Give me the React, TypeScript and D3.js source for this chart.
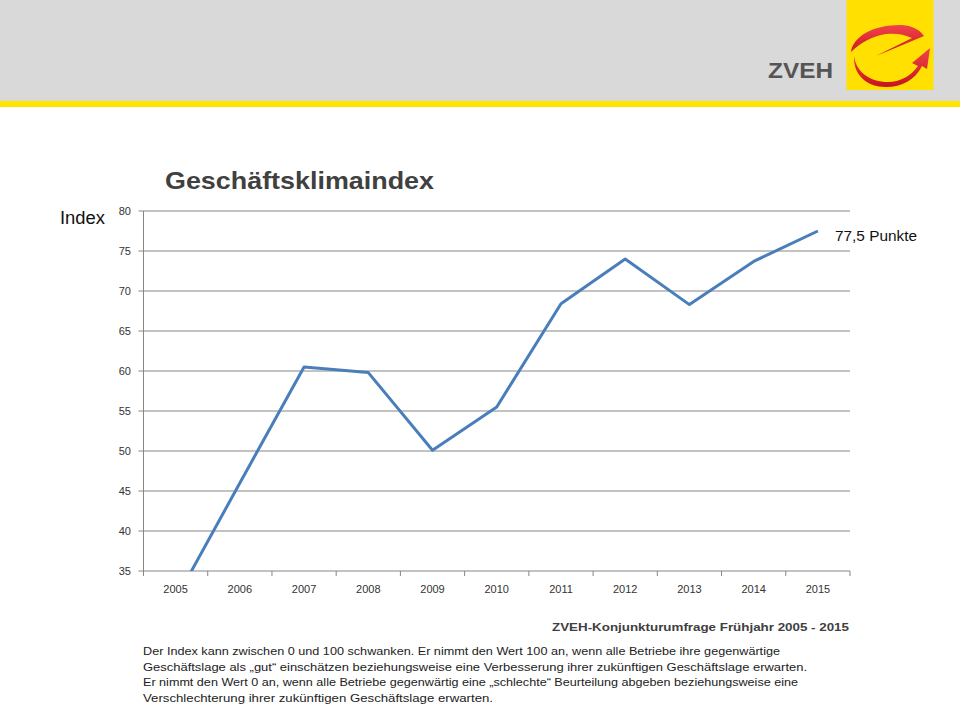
import React from "react";
import * as d3 from "d3";

const years = ["2005","2006","2007","2008","2009","2010","2011","2012","2013","2014","2015"];
const indexValues = [31.4, 46.0, 60.5, 59.8, 50.1, 55.5, 68.4, 74.0, 68.3, 73.7, 77.5];
const yTicks = [35, 40, 45, 50, 55, 60, 65, 70, 75, 80];
const footnoteLines = [
  "Der Index kann zwischen 0 und 100 schwanken. Er nimmt den Wert 100 an, wenn alle Betriebe ihre gegenwärtige",
  "Geschäftslage als „gut“ einschätzen beziehungsweise eine Verbesserung ihrer zukünftigen Geschäftslage erwarten.",
  "Er nimmt den Wert 0 an, wenn alle Betriebe gegenwärtig eine „schlechte“ Beurteilung abgeben beziehungsweise eine",
  "Verschlechterung ihrer zukünftigen Geschäftslage erwarten.",
];
const footnoteWidths = [637, 664, 655, 350];

export default function App() {
  const W = 960, H = 720;
  const left = 143.5, right = 850, top = 211, bottom = 571;
  const x = d3.scaleBand<string>().domain(years).range([left, right]);
  const y = d3.scaleLinear().domain([35, 80]).range([bottom, top]);
  const line = d3.line<number>()
    .x((_, i) => (x(years[i]) as number) + x.bandwidth() / 2)
    .y((d) => y(d));
  const font = "Arial, 'Liberation Sans', sans-serif";
  const tickBounds = years.map((yr) => x(yr) as number).concat([right]);
  const last = indexValues[indexValues.length - 1];
  return (
    <svg width={W} height={H} style={{ position: "absolute", left: 0, top: 0 }} fontFamily={font}>
      <defs>
        <clipPath id="plotClip">
          <rect x={left} y={top - 5} width={right - left + 5} height={bottom - top + 5} />
        </clipPath>
        <linearGradient id="redg" x1="0" y1="0" x2="0" y2="1">
          <stop offset="0" stopColor="#f0444a" />
          <stop offset="1" stopColor="#c8141c" />
        </linearGradient>
      </defs>
      <rect x={0} y={0} width={W} height={H} fill="#ffffff" />
      {/* header */}
      <rect x={0} y={0} width={W} height={101} fill="#d9d9d9" />
      <rect x={0} y={101} width={W} height={6} fill="#ffe500" />
      <rect x={846.5} y={0} width={87} height={90} fill="#ffe000" />
      {/* logo swooshes */}
      <path d="M851,52 C853,36 874,25 900,25 C911,25 919,29 924,36 L876,56 L912,38 C904,34 895,33 886,34 C872,36 860,43 851,52 Z" fill="url(#redg)" />
      <path d="M854,56 C856,72 870,82 888,82 C900,82 911,76 918,66 L912,63 L930,48 L927,69 L922,66 C915,80 902,87 886,87 C866,87 853,74 854,56 Z" fill="url(#redg)" />
      <text x={768} y={78} fontSize={22} fontWeight="bold" fill="#555555" textLength={65} lengthAdjust="spacingAndGlyphs">ZVEH</text>
      {/* title */}
      <text x={165} y={189} fontSize={24} fontWeight="bold" fill="#404040" textLength={269} lengthAdjust="spacingAndGlyphs">Geschäftsklimaindex</text>
      <text x={60} y={224} fontSize={17.5} fill="#111" textLength={45} lengthAdjust="spacingAndGlyphs">Index</text>
      {/* grid */}
      {yTicks.map((t) => (
        <g key={t}>
          <line x1={left - 5} x2={right} y1={y(t)} y2={y(t)} stroke="#868686" strokeWidth={1} />
          <text x={131} y={y(t) + 4} textAnchor="end" fontSize={11} fill="#333">{t}</text>
        </g>
      ))}
      <line x1={left} x2={left} y1={top} y2={bottom} stroke="#868686" strokeWidth={1} />
      {tickBounds.map((b, i) => (
        <line key={i} x1={b} x2={b} y1={bottom} y2={bottom + 5} stroke="#868686" strokeWidth={1} />
      ))}
      {years.map((yr) => (
        <text key={yr} x={(x(yr) as number) + x.bandwidth() / 2} y={593} textAnchor="middle" fontSize={11} fill="#333">{yr}</text>
      ))}
      <path d={line(indexValues) || ""} fill="none" stroke="#4a7ebb" strokeWidth={3} strokeLinejoin="round" clipPath="url(#plotClip)" />
      <text x={835} y={y(last) + 10} fontSize={15.5} fill="#111" textLength={82} lengthAdjust="spacingAndGlyphs">77,5 Punkte</text>
      {/* source */}
      <text x={552} y={631} fontSize={11.5} fontWeight="bold" fill="#404040" textLength={297} lengthAdjust="spacingAndGlyphs">ZVEH-Konjunkturumfrage  Frühjahr 2005 - 2015</text>
      {footnoteLines.map((l, i) => (
        <text key={i} x={143} y={655 + i * 15.5} fontSize={11.5} fill="#222"
          textLength={footnoteWidths[i]} lengthAdjust="spacingAndGlyphs"
          fontFamily="'Liberation Sans Narrow', Arial, sans-serif">{l}</text>
      ))}
    </svg>
  );
}
